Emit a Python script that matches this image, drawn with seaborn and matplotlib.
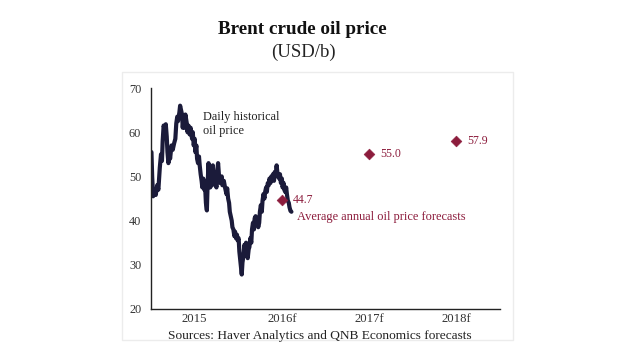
import pandas as pd
import matplotlib.pyplot as plt
import matplotlib.dates as mdates
from matplotlib.patches import Rectangle
import seaborn as sns

# Daily Brent price (days since 1 Jan 2015, USD/b)
day_offset = [2, 5, 9, 15, 20, 26, 31, 37, 42, 46, 49, 53, 58, 62, 66, 69, 73, 77, 80, 86,
              91, 97, 102, 106, 110, 113, 119, 122, 126, 130, 133, 137, 141, 144, 150, 153,
              157, 162, 166, 172, 175, 179, 183, 186, 190, 193, 197, 201, 204, 208, 212, 215,
              219, 223, 226, 230, 234, 237, 241, 245, 248, 252, 256, 259, 263, 268, 274, 277,
              281, 285, 290, 296, 299, 305, 310, 316, 319, 323, 327, 330, 334, 338, 341, 345,
              349, 352, 356, 360, 363, 367, 370, 374, 378, 380, 383, 387, 391, 394, 398, 402,
              405, 409, 412, 416, 420, 423, 427, 431, 434, 438, 442, 445, 449, 453, 456, 460,
              464, 467, 471, 475, 478, 482, 485, 489, 493, 496, 500, 504, 507, 511, 515, 518,
              522, 526, 529, 533, 537, 540, 544, 548, 551, 555, 558, 562, 566, 569, 573, 577,
              580, 584, 588]
price = [55.5, 50, 45.5, 47, 45.8, 48, 47, 52, 55, 53.5, 58, 61.5, 60.5, 61.8, 59, 55.5, 53, 56, 54, 57,
         56, 57.5, 58.5, 62, 63.5, 62.5, 64.5, 66, 65, 64, 61, 63.5, 61, 64, 62, 60,
         61.5, 59.5, 61, 58.5, 60, 57, 58.5, 55.5, 57, 54, 53, 54.5, 52.5, 50.5, 49, 47.5,
         49.5, 47, 48.5, 44, 42.3, 48, 53, 49, 47.5, 49.5, 48, 52.5, 48.5, 49.5, 47.5, 51,
         53, 50, 48.5, 50, 48, 49, 47.5, 46, 47.3, 45, 44, 42, 41, 40, 38.5, 38,
         36.5, 37.5, 36, 36.8, 35.5, 36, 33, 31, 29, 27.8, 30.5, 32, 34.5, 33, 35, 33,
         31.5, 33.5, 34, 36, 35, 38, 39.5, 38, 40.5, 41, 39.5, 40, 38.5, 39.5, 42, 43.5,
         42, 44.5, 46, 45, 46.5, 47.5, 46.5, 48.5, 48, 49.5, 48.5, 50, 49.5, 50.5, 49, 51,
         50, 52.5, 51, 50, 49.5, 50.5, 48.5, 49.5, 47.5, 48.5, 47, 46.5, 47.5, 46, 44.5, 44,
         43, 42.2, 42]

# Average annual forecasts
forecast_year = ["2016-07-01", "2017-07-01", "2018-07-01"]
forecast_value = [44.7, 55.0, 57.9]
forecast_label = ["44.7", "55.0", "57.9"]

year_labels = ["2015", "2016f", "2017f", "2018f"]

daily = pd.DataFrame({
    "date": pd.Timestamp("2015-01-01") + pd.to_timedelta(day_offset, unit="D"),
    "price": price,
})
fc = pd.DataFrame({"date": pd.to_datetime(forecast_year), "price": forecast_value})

sns.set_style("white")
plt.rcParams["font.family"] = ["Liberation Serif", "DejaVu Serif"]

navy = "#1b1b3a"
maroon = "#8c1c3c"

fig = plt.figure(figsize=(6.2, 3.55), dpi=100)
ax = fig.add_axes([0.2435, 0.1296, 0.5629, 0.6225])

# faint frame around the chart area
fig.patches.append(Rectangle((122 / 620, 1 - 340 / 355), (513 - 122) / 620, (340 - 72) / 355,
                             transform=fig.transFigure, fill=False,
                             edgecolor="#ececec", linewidth=1.0))

sns.lineplot(data=daily, x="date", y="price", ax=ax, color=navy, linewidth=3.0)
sns.scatterplot(data=fc, x="date", y="price", ax=ax, marker="D", s=30,
                color=maroon, edgecolor=maroon, zorder=3)

for d, v, lab in zip(fc["date"], forecast_value, forecast_label):
    ax.annotate(lab, (mdates.date2num(d), v), xytext=(8, 0), textcoords="offset points",
                va="center", ha="left", fontsize=8.5, color=maroon)

ax.text(mdates.date2num(pd.Timestamp("2016-09-04")), 40.8, "Average annual oil price forecasts",
        fontsize=8.9, color=maroon, va="center", ha="left")
ax.text(mdates.date2num(pd.Timestamp("2015-08-06")), 64.7, "Daily historical\noil price",
        fontsize=8.8, color="#222222", va="top", ha="left", linespacing=1.15)

ax.set_xlim(pd.Timestamp("2015-01-01"), pd.Timestamp("2019-01-01"))
ax.set_ylim(20, 70)
ax.set_yticks([20, 30, 40, 50, 60, 70])
ax.set_xticks(pd.to_datetime(["2015-01-01", "2016-01-01", "2017-01-01", "2018-01-01", "2019-01-01"]))
ax.set_xticklabels([])
ax.set_xticks(pd.to_datetime(["2015-07-02", "2016-07-02", "2017-07-02", "2018-07-02"]), minor=True)
ax.set_xticklabels(year_labels, minor=True)
ax.tick_params(axis="x", which="minor", length=0, pad=3, labelsize=9.2, labelcolor="#333333")
ax.tick_params(axis="x", which="major", length=4, width=1, direction="out", color="#222222")
ax.tick_params(axis="y", length=4, width=1, direction="out", color="#222222",
               labelsize=8.8, labelcolor="#333333", pad=3)
ax.set_xlabel("")
ax.set_ylabel("")

for side in ["top", "right"]:
    ax.spines[side].set_visible(False)
for side in ["left", "bottom"]:
    ax.spines[side].set_color("#222222")
    ax.spines[side].set_linewidth(1.0)

fig.text(0.488, 1 - 30 / 355, "Brent crude oil price", ha="center", va="center",
         fontsize=13.8, fontweight="bold", color="#111111")
fig.text(0.490, 1 - 52 / 355, "(USD/b)", ha="center", va="center",
         fontsize=13.5, color="#222222")
fig.text(0.516, 1 - 335.5 / 355, "Sources: Haver Analytics and QNB Economics forecasts",
         ha="center", va="center", fontsize=9.6, color="#222222")

fig.savefig("out.png", dpi=100)
